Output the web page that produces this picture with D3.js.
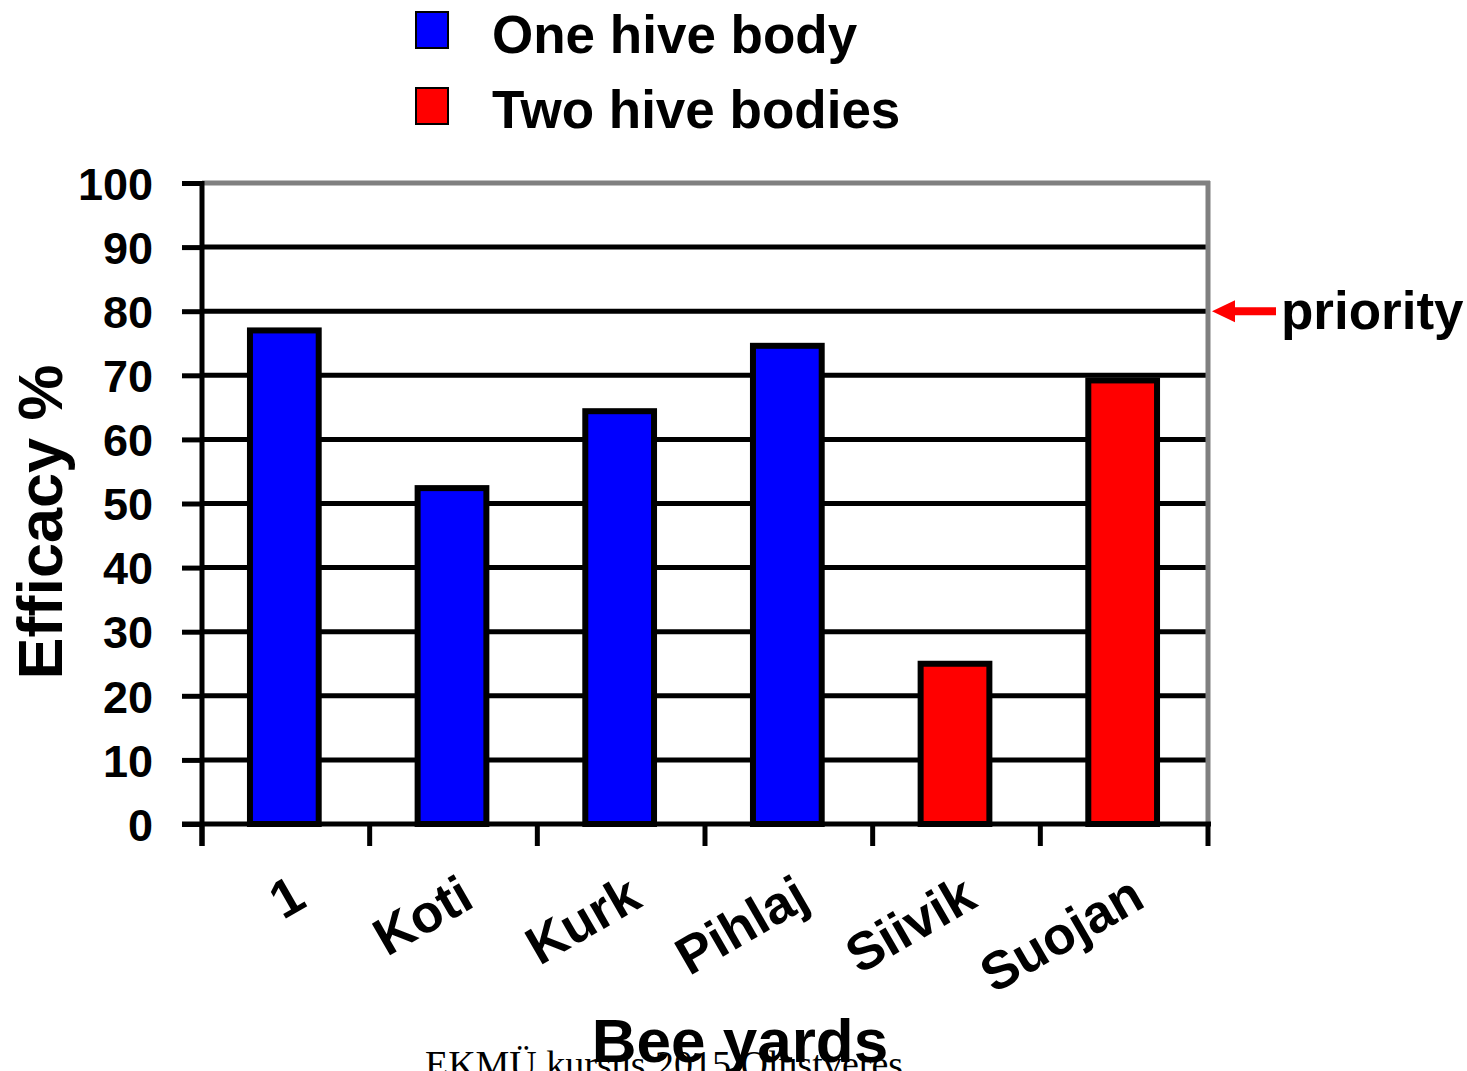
<!DOCTYPE html>
<html>
<head>
<meta charset="utf-8">
<script src="https://cdn.jsdelivr.net/npm/d3@7"></script>
<style>
  html, body { margin: 0; padding: 0; background: #fff; }
  svg { display: block; }
  text { font-family: "Liberation Sans", Arial, sans-serif; font-weight: bold; fill: #000; }
</style>
</head>
<body>
<svg id="chart" width="1467" height="1071"></svg>
<script>
// ---- data ----
const categories = ["1", "Koti", "Kurk", "Pihlaj", "Siivik", "Suojan"];
const efficacy   = [77, 52.4, 64.4, 74.6, 25, 69.2];
const hiveGroup  = ["One hive body", "One hive body", "One hive body", "One hive body", "Two hive bodies", "Two hive bodies"];
const seriesNames = ["One hive body", "Two hive bodies"];
const seriesColors = ["#0000ff", "#ff0000"];
const yTicks = [0, 10, 20, 30, 40, 50, 60, 70, 80, 90, 100];
const priorityLevel = 80;
const priorityLabel = "priority";
const xTitle = "Bee yards";
const yTitle = "Efficacy %";
const footer = "EKMÜ kursus 2015 Olustveres";

// ---- layout ----
const svg = d3.select("#chart");
const L = 202, R = 1208, T = 183, B = 824;

const x = d3.scaleBand().domain(categories).range([L, R]).padding(0);
const y = d3.scaleLinear().domain([0, 100]).range([B, T]);
const color = d3.scaleOrdinal().domain(seriesNames).range(seriesColors);

// gridlines
svg.append("g")
  .selectAll("line")
  .data(yTicks.filter(d => d > 0 && d < 100))
  .join("line")
  .attr("x1", L).attr("x2", R)
  .attr("y1", d => y(d)).attr("y2", d => y(d))
  .attr("stroke", "#000").attr("stroke-width", 5);

// top and right plot border (gray)
svg.append("line").attr("x1", L).attr("x2", R + 2).attr("y1", y(100)).attr("y2", y(100))
  .attr("stroke", "#808080").attr("stroke-width", 5);
svg.append("line").attr("x1", R).attr("x2", R).attr("y1", y(100) - 2).attr("y2", y(0))
  .attr("stroke", "#808080").attr("stroke-width", 5);

// bars
const barW = x.bandwidth() * 0.41;
svg.append("g")
  .selectAll("rect")
  .data(categories.map((c, i) => ({ c, v: efficacy[i], g: hiveGroup[i] })))
  .join("rect")
  .attr("x", d => x(d.c) + x.bandwidth() * 0.5 - barW / 2 - 1.5)
  .attr("width", barW)
  .attr("y", d => y(d.v))
  .attr("height", d => y(0) - y(d.v))
  .attr("fill", d => color(d.g))
  .attr("stroke", "#000").attr("stroke-width", 6);

// y axis
const yAxis = d3.axisLeft(y).tickValues(yTicks).tickSize(20).tickPadding(30).tickFormat(d3.format("d"));
const gy = svg.append("g").attr("transform", `translate(${L},0)`).call(yAxis);
gy.select(".domain").remove();
gy.selectAll(".tick line").attr("stroke", "#000").attr("stroke-width", 5);
gy.selectAll(".tick text").attr("font-size", 45).attr("dy", "0.36em").attr("x", -49)
  .style("font-family", "'Liberation Sans', Arial, sans-serif").style("font-weight", "bold");
svg.append("line").attr("x1", L).attr("x2", L).attr("y1", y(100) - 2).attr("y2", B + 22)
  .attr("stroke", "#000").attr("stroke-width", 5);

// x axis baseline + boundary ticks
svg.append("line").attr("x1", L - 20).attr("x2", R + 3).attr("y1", B).attr("y2", B)
  .attr("stroke", "#000").attr("stroke-width", 5);
const boundaries = categories.map(c => x(c)).concat([x(categories[categories.length - 1]) + x.bandwidth()]);
svg.append("g").selectAll("line").data(boundaries).join("line")
  .attr("x1", d => d).attr("x2", d => d)
  .attr("y1", B).attr("y2", B + 22)
  .attr("stroke", "#000").attr("stroke-width", 5);

// x labels rotated
svg.append("g").selectAll("text").data(categories).join("text")
  .attr("transform", d => `translate(${x(d) + x.bandwidth() / 2 + 4},${B + 49}) rotate(-30)`)
  .attr("text-anchor", "end")
  .attr("dy", "0.71em")
  .attr("font-size", 53)
  .text(d => d);

// y title
svg.append("text")
  .attr("transform", `translate(62,522) rotate(-90)`)
  .attr("text-anchor", "middle")
  .attr("font-size", 63)
  .text(yTitle);

// footer (serif, behind x title)
svg.append("text")
  .attr("x", 664).attr("y", 1077)
  .attr("text-anchor", "middle")
  .attr("font-size", 38)
  .style("font-family", "'Liberation Serif', 'Times New Roman', serif")
  .style("font-weight", "normal")
  .text(footer);

// x title
svg.append("text")
  .attr("x", 740).attr("y", 1062)
  .attr("text-anchor", "middle")
  .attr("font-size", 62)
  .text(xTitle);

// legend
const legend = svg.append("g");
seriesNames.forEach((s, i) => {
  const ly = 12 + i * 76;
  legend.append("rect").attr("x", 416).attr("y", ly).attr("width", 32).attr("height", 36)
    .attr("fill", color(s)).attr("stroke", "#000").attr("stroke-width", 2);
  legend.append("text").attr("x", 492).attr("y", 53 + i * 75).attr("font-size", 53).text(s);
});

// priority arrow
const py = y(priorityLevel);
svg.append("path")
  .attr("d", `M${R + 4},${py} L${R + 27},${py - 11} L${R + 27},${py - 4} L${R + 68},${py - 4} L${R + 68},${py + 4} L${R + 27},${py + 4} L${R + 27},${py + 11} Z`)
  .attr("fill", "#ff0000");
svg.append("text").attr("x", 1281).attr("y", py + 18).attr("font-size", 53).text(priorityLabel);
</script>
</body>
</html>
